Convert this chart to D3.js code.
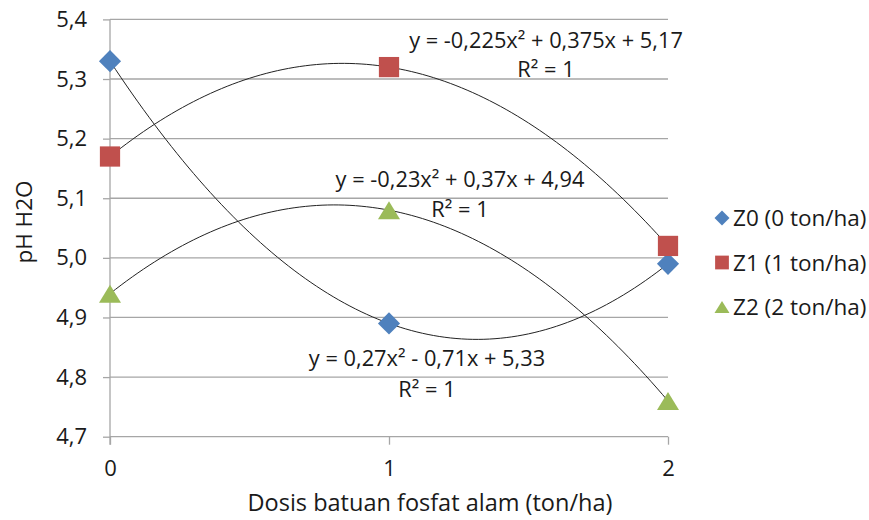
<!DOCTYPE html>
<html>
<head>
<meta charset="utf-8">
<script src="https://cdn.jsdelivr.net/npm/d3@7"></script>
<style>
  html, body { margin: 0; padding: 0; background: #fff; }
  svg text { font-family: "Open Sans", Lato, sans-serif; fill: #1a1a1a; }
</style>
</head>
<body>
<svg id="chart" width="869" height="520"></svg>
<script>
// Doses of rock phosphate (ton/ha) on the x axis
const doses = [0, 1, 2];
const xTicks = [0, 1, 2];
const yTicks = [4.7, 4.8, 4.9, 5.0, 5.1, 5.2, 5.3, 5.4];

// pH H2O per treatment
const z0 = [5.33, 4.89, 4.99];
const z1 = [5.17, 5.32, 5.02];
const z2 = [4.94, 5.08, 4.76];

const seriesNames = ["Z0 (0 ton/ha)", "Z1 (1 ton/ha)", "Z2 (2 ton/ha)"];
const seriesColors = ["#4F81BD", "#C0504D", "#9BBB59"];

// Trendline labels, written as the spreadsheet prints them
const eqLabels = [
  "y = 0,27x² - 0,71x + 5,33",
  "y = -0,225x² + 0,375x + 5,17",
  "y = -0,23x² + 0,37x + 4,94"
];
const r2Labels = ["R² = 1", "R² = 1", "R² = 1"];

const series = [z0, z1, z2].map((v, i) => ({
  name: seriesNames[i], color: seriesColors[i], values: v,
  eq: eqLabels[i], r2: r2Labels[i]
}));

const FONT = "'Open Sans', Lato, sans-serif";
const svg = d3.select("#chart");
const x = d3.scaleLinear().domain([0, 2]).range([110, 668]);
const y = d3.scaleLinear().domain([4.7, 5.4]).range([436.7, 19.4]);

const fmt = d => d3.format(".1f")(d).replace(".", ",");
const grid = "#a6a6a6";

// horizontal gridlines
svg.append("g").selectAll("line").data(yTicks).join("line")
  .attr("x1", x(0)).attr("x2", x(2))
  .attr("y1", d => y(d)).attr("y2", d => y(d))
  .attr("stroke", grid).attr("stroke-width", 1.3);

// y axis
const yAxis = svg.append("g").attr("transform", `translate(${x(0)},0)`)
  .call(d3.axisLeft(y).tickValues(yTicks).tickFormat(fmt).tickSize(7).tickPadding(16));
yAxis.select(".domain").attr("stroke", grid).attr("stroke-width", 1.3)
  .attr("d", `M0,${y(5.4)}V${y(4.7) + 8}`);
yAxis.selectAll(".tick line").attr("stroke", grid).attr("stroke-width", 1.3);
yAxis.selectAll(".tick text").attr("font-size", 22).attr("fill", "#1a1a1a")
  .attr("font-family", FONT);

// x axis
const xAxis = svg.append("g").attr("transform", `translate(0,${y(4.7)})`)
  .call(d3.axisBottom(x).tickValues(xTicks).tickFormat(d3.format("d")).tickSize(8).tickPadding(16));
xAxis.select(".domain").remove();
xAxis.selectAll(".tick line").attr("stroke", grid).attr("stroke-width", 1.3);
xAxis.selectAll(".tick text").attr("font-size", 22).attr("fill", "#1a1a1a")
  .attr("font-family", FONT);

// quadratic least-squares fit of a series (exact through three points)
function quadFit(xs, ys) {
  const n = xs.length;
  const s = [0, 0, 0, 0, 0], t = [0, 0, 0];
  for (let i = 0; i < n; i++) {
    for (let k = 0; k < 5; k++) s[k] += Math.pow(xs[i], k);
    for (let k = 0; k < 3; k++) t[k] += ys[i] * Math.pow(xs[i], k);
  }
  const A = [[s[0], s[1], s[2], t[0]], [s[1], s[2], s[3], t[1]], [s[2], s[3], s[4], t[2]]];
  for (let c = 0; c < 3; c++) {
    for (let r = c + 1; r < 3; r++) {
      const f = A[r][c] / A[c][c];
      for (let k = c; k < 4; k++) A[r][k] -= f * A[c][k];
    }
  }
  const b = [0, 0, 0];
  for (let r = 2; r >= 0; r--) {
    let v = A[r][3];
    for (let k = r + 1; k < 3; k++) v -= A[r][k] * b[k];
    b[r] = v / A[r][r];
  }
  return b; // c0, c1, c2
}

// trendlines
const line = d3.line().x(d => x(d[0])).y(d => y(d[1]));
series.forEach(s => {
  const c = quadFit(doses, s.values);
  const pts = d3.range(0, 2.0001, 0.02).map(t => [t, c[0] + c[1] * t + c[2] * t * t]);
  svg.append("path").attr("d", line(pts)).attr("fill", "none")
    .attr("stroke", "#222").attr("stroke-width", 1);
});

// marker shapes: diamond, square, triangle
function marker(sel, i, scale) {
  if (i === 0) {
    sel.append("path").attr("d", d3.symbol().type(d3.symbolSquare).size(245 * scale * scale)())
      .attr("transform", "rotate(45)");
  } else if (i === 1) {
    sel.append("path").attr("d", d3.symbol().type(d3.symbolSquare).size(410 * scale * scale)());
  } else {
    const w = 22 * scale, h = 18 * scale;
    sel.append("path").attr("d", `M0,${-h / 2}L${w / 2},${h / 2}L${-w / 2},${h / 2}Z`);
  }
}

// points
series.forEach((s, i) => {
  s.values.forEach((v, j) => {
    const g = svg.append("g").attr("transform", `translate(${x(doses[j])},${y(v)})`)
      .attr("fill", s.color);
    marker(g, i, 1);
  });
});

// trendline labels
const eqPos = [[427, 366, 397], [546, 48, 77], [460, 187, 217]];
series.forEach((s, i) => {
  const [cx, yEq, yR] = eqPos[i];
  svg.append("text").attr("x", cx).attr("y", yEq).attr("text-anchor", "middle")
    .attr("font-size", 21.8).text(s.eq);
  svg.append("text").attr("x", cx).attr("y", yR).attr("text-anchor", "middle")
    .attr("font-size", 21.8).text(s.r2);
});

// axis titles
svg.append("text").attr("x", 430).attr("y", 511).attr("text-anchor", "middle")
  .attr("font-size", 23.5).text("Dosis batuan fosfat alam (ton/ha)");
svg.append("text").attr("transform", "translate(32,222) rotate(-90)")
  .attr("text-anchor", "middle").attr("font-size", 22.5).text("pH H2O");

// legend
const legend = svg.append("g");
series.forEach((s, i) => {
  const row = legend.append("g").attr("transform", `translate(0,${218 + i * 44.5})`);
  const m = row.append("g").attr("transform", "translate(722,0)").attr("fill", s.color);
  marker(m, i, 0.68);
  row.append("text").attr("x", 733).attr("y", 8).attr("font-size", 22.5).text(s.name);
});
</script>
</body>
</html>
